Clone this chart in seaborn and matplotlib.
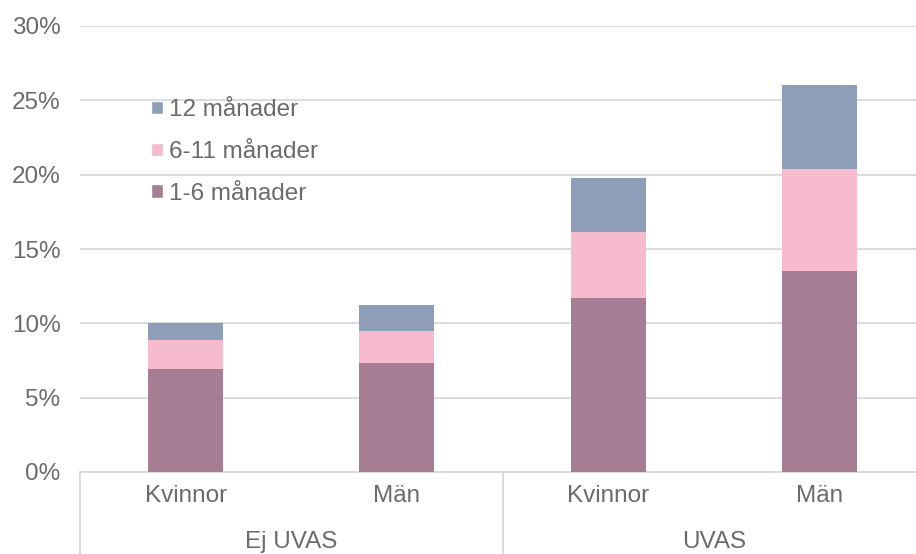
import numpy as np
import pandas as pd
import matplotlib
matplotlib.use("Agg")
import matplotlib.pyplot as plt
from matplotlib.patches import Patch
import seaborn as sns

# data (percent)
groups = ["Ej UVAS", "Ej UVAS", "UVAS", "UVAS"]
sexes = ["Kvinnor", "Män", "Kvinnor", "Män"]
m1_6 = [6.9, 7.3, 11.7, 13.5]
m6_11 = [1.95, 2.2, 4.45, 6.85]
m12 = [1.15, 1.7, 3.6, 5.65]

series_names = ["1-6 månader", "6-11 månader", "12 månader"]
colors = ["#A67D93", "#F7BBD0", "#8E9EB8"]
y_ticks = [0, 5, 10, 15, 20, 25, 30]

df = pd.DataFrame({"group": groups, "sex": sexes,
                   "m1_6": m1_6, "m6_11": m6_11, "m12": m12})
df["key"] = df["group"] + " " + df["sex"]
df["c2"] = df["m1_6"] + df["m6_11"]
df["c3"] = df["c2"] + df["m12"]

sns.set_style("white")
plt.rcParams["font.family"] = ["Liberation Sans", "DejaVu Sans"]
text_col = "#6B6B6B"
grid_col = "#D9D9D9"
fs = 17.5

fig = plt.figure(figsize=(9.16, 5.54), dpi=100)
ax = fig.add_axes([80 / 916, 82 / 554, 845 / 916, 446 / 554])

# stacked look: draw cumulative totals, largest first
for col, c in zip(["c3", "c2", "m1_6"], colors[::-1]):
    sns.barplot(data=df, x="key", y=col, order=list(df["key"]), color=c,
                width=0.355, linewidth=0, saturation=1, ax=ax, zorder=3)

ax.set_xlim(-0.5, 3.5)
ax.set_ylim(0, 30)
ax.set_yticks(y_ticks)
ax.set_yticklabels([f"{t}%" for t in y_ticks], color=text_col, fontsize=fs)
ax.tick_params(axis="y", length=0, pad=14)
ax.grid(axis="y", color=grid_col, linewidth=1.3, zorder=0)
ax.set_xlabel("")
ax.set_ylabel("")
for s in ["top", "right", "left"]:
    ax.spines[s].set_visible(False)
ax.spines["bottom"].set_color(grid_col)
ax.spines["bottom"].set_linewidth(1.3)

ax.set_xticks(range(len(sexes)))
ax.set_xticklabels(sexes, color=text_col, fontsize=fs)
ax.tick_params(axis="x", length=0, pad=9)

# two-level category axis
trans = ax.get_xaxis_transform()
for xs in [-0.5, 1.5, 3.5]:
    ax.plot([xs, xs], [0, -0.2], transform=trans, color=grid_col,
            linewidth=1.3, clip_on=False)
for i, g in enumerate(["Ej UVAS", "UVAS"]):
    ax.text(2 * i + 0.5, -0.158, g, transform=trans, ha="center", va="center",
            color=text_col, fontsize=fs)

handles = [Patch(facecolor=c, label=n) for c, n in zip(colors, series_names)][::-1]
ax.legend(handles=handles, loc="upper left", bbox_to_anchor=(0.058, 0.885),
          frameon=False, fontsize=fs, handlelength=0.5, handleheight=0.5,
          handletextpad=0.25, labelspacing=0.82, labelcolor=text_col)

fig.savefig("out.png", dpi=100)
